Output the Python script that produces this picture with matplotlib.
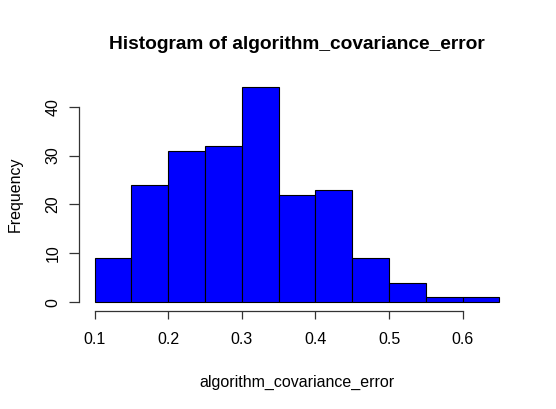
import numpy as np
import matplotlib.pyplot as plt

plt.rcParams['font.family'] = ['Liberation Sans', 'DejaVu Sans']

# bin edges and counts
bin_edges = [0.10, 0.15, 0.20, 0.25, 0.30, 0.35, 0.40, 0.45, 0.50, 0.55, 0.60, 0.65]
counts = [9, 24, 31, 32, 44, 22, 23, 9, 4, 1, 1]
x_ticks = [0.1, 0.2, 0.3, 0.4, 0.5, 0.6]
y_ticks = [0, 10, 20, 30, 40]

edges = np.array(bin_edges)

fig = plt.figure(figsize=(5.56, 4.09), dpi=100)
ax = fig.add_axes([0.1412, 0.2399, 0.9275 - 0.1412, 0.8081 - 0.2399])

ax.bar(edges[:-1], counts, width=np.diff(edges), align='edge',
       color='#0000FF', edgecolor='black', linewidth=0.8)

# R style: 4% padding on both axes
xr = edges[-1] - edges[0]
ax.set_xlim(edges[0] - 0.04 * xr, edges[-1] + 0.04 * xr)
ymax = max(counts)
ax.set_ylim(-0.04 * ymax, ymax * 1.04)

for s in ['top', 'right']:
    ax.spines[s].set_visible(False)
ax.spines['left'].set_bounds(y_ticks[0], y_ticks[-1])
ax.spines['bottom'].set_bounds(x_ticks[0], x_ticks[-1])
for s in ['left', 'bottom']:
    ax.spines[s].set_color('#333333')
    ax.spines[s].set_linewidth(0.9)

ax.set_xticks(x_ticks)
ax.set_xticklabels([str(t) for t in x_ticks])
ax.set_yticks(y_ticks)
ax.set_yticklabels([str(t) for t in y_ticks], rotation=90, va='center')
ax.tick_params(axis='x', length=6, width=0.9, color='#333333', pad=9, labelsize=11.5)
ax.tick_params(axis='y', length=7, width=0.9, color='#333333', pad=6, labelsize=11.5)

ax.set_xlabel('algorithm_covariance_error', fontsize=11.5, labelpad=20)
ax.set_ylabel('Frequency', fontsize=11.5, labelpad=16)
ax.set_title('Histogram of algorithm_covariance_error', fontsize=13.8,
             fontweight='bold', pad=21)

fig.savefig('out.png', dpi=100)
